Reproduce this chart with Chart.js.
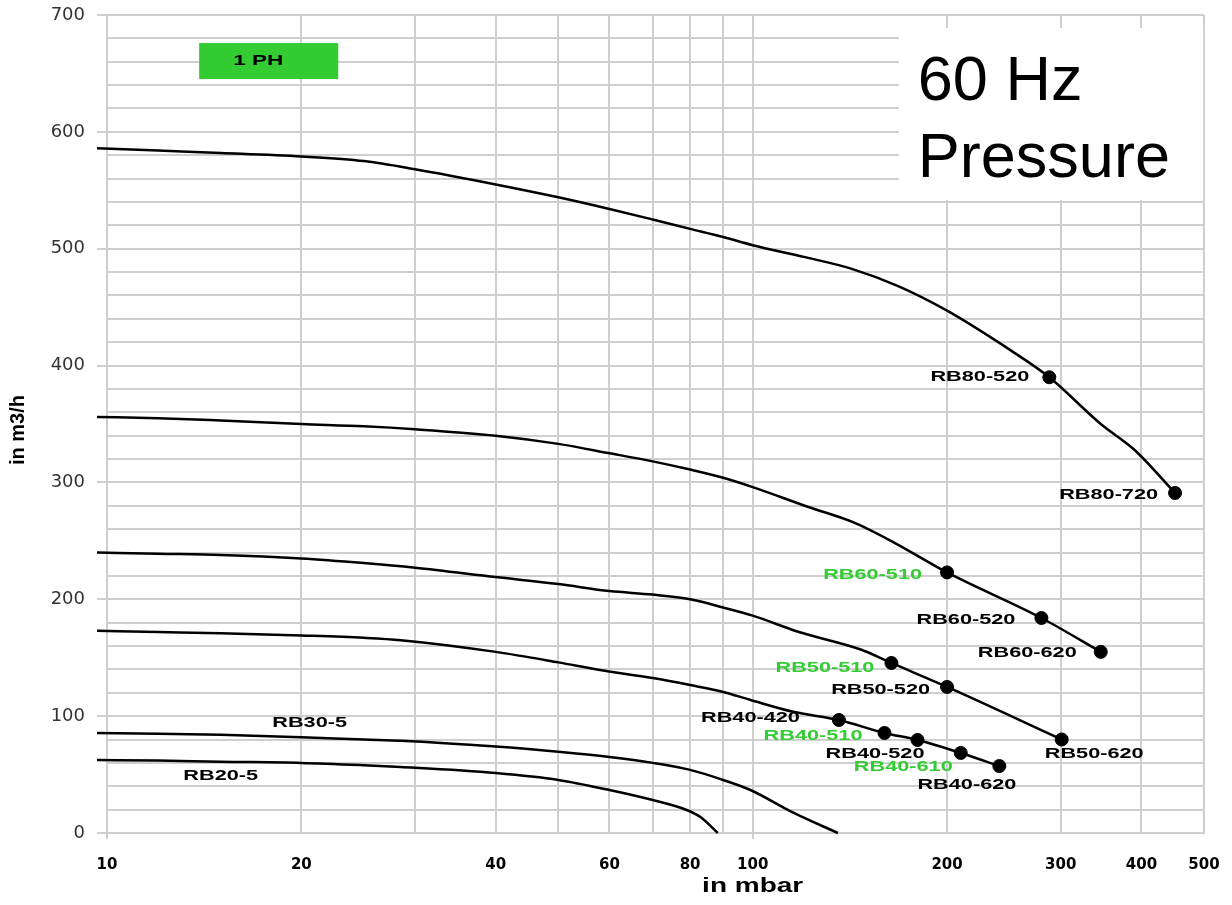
<!DOCTYPE html>
<html>
<head>
<meta charset="utf-8">
<script src="https://cdn.jsdelivr.net/npm/chart.js@4/dist/chart.umd.min.js"></script>
<style>
html,body{margin:0;padding:0;background:#fff;}
#wrap{width:1232px;height:905px;position:relative;}
</style>
</head>
<body>
<div id="wrap"><canvas id="c" width="1232" height="905"></canvas></div>
<script>
// ---- Data (pressure in mbar, flow in m3/h) ----
const rb80X = [9.65, 12, 15, 20, 25, 30, 40, 50, 60, 70, 80, 90, 100, 120, 142, 168, 200, 251, 288, 346, 390, 451];
const rb80Y = [586, 584, 582, 579, 575, 568, 555, 544, 534, 525, 517, 510, 503, 493, 483, 468, 447, 413, 390, 350, 328, 291];

const rb60X = [9.65, 12, 15, 20, 25, 30, 40, 50, 60, 70, 80, 90, 100, 122, 143, 165, 200, 280, 346];
const rb60Y = [356, 355, 353, 350, 348, 345.5, 340, 333, 325, 318, 311, 304, 296, 279, 266, 249, 223, 184, 155];

const rb50X = [9.65, 12, 15, 20, 25, 30, 40, 50, 60, 70, 80, 90, 100, 118, 147, 164, 200, 301];
const rb50Y = [240, 239, 238, 235, 231, 227, 219, 213, 207, 204, 200, 193, 186, 172, 157, 145.5, 125, 80];

const rb40X = [9.65, 12, 15, 20, 25, 28.5, 40, 50, 58, 70, 80, 90, 99, 116, 136, 160, 180, 210, 241];
const rb40Y = [173, 172, 171, 169, 167, 165, 155, 146, 139.5, 132.6, 126.6, 120.7, 114, 103.5, 96.7, 85.6, 79.6, 68.5, 57.3];

const rb30X = [9.65, 12, 15, 20, 25, 28.5, 40, 50, 60, 70, 80, 90, 99, 116, 135.5];
const rb30Y = [85.6, 85, 84, 82, 80, 79, 74, 69.5, 65, 60, 54, 45.4, 37, 17, 0];

const rb20X = [9.65, 12, 15, 20, 25, 28.5, 40, 50, 60, 70, 79, 83, 88.3];
const rb20Y = [62.5, 62, 61, 60, 58, 56.5, 51.3, 45.4, 36.8, 28.2, 19.7, 13.7, 0];

const markerNames = ['RB80-520','RB80-720','RB60-510','RB60-520','RB60-620','RB50-510','RB50-520','RB50-620','RB40-420','RB40-510','RB40-520','RB40-610','RB40-620'];
const markerX     = [288, 451, 200, 280, 346, 164, 200, 301, 136, 160, 180, 210, 241];
const markerY     = [390, 291, 223, 184, 155, 145.5, 125, 80, 96.7, 85.6, 79.6, 68.5, 57.3];
const markerGreen = [false,false,true,false,false,true,false,false,false,true,false,true,false];

const curveNames = ['RB20-5', 'RB30-5'];
const curveLabelX = [15, 20.6];
const curveLabelY = [48.8, 94];

const xTickValues = [10,20,30,40,50,60,70,80,90,100,200,300,400,500];
const xTickLabels = [10,20,40,60,80,100,200,300,400,500];
const yMajorStep = 100;
const yMinorStep = 20;

// ---- Styles (pixel offsets of marker labels: dx of right edge, dy) ----
const labelOffsets = [[-20,0],[-17,2],[-25,3],[-26,2],[-24,1],[-17,5],[-17,3],[82,15],[-39,-2],[-22,3],[7,14],[-8,14],[17,19]];
const GREEN = '#33cc33';
const GRID = '#cfcfcf';

function pts(xs, ys){ return xs.map((x,i)=>({x:x, y:ys[i]})); }
function curve(xs, ys){
  return {type:'line', data:pts(xs,ys), borderColor:'#000', borderWidth:2.5, pointRadius:0,
          cubicInterpolationMode:'monotone', fill:false, clip:false};
}

function stretchText(ctx, text, x, y, font, color, align, sx){
  ctx.save();
  ctx.translate(x, y);
  ctx.scale(sx, 1);
  ctx.font = font;
  ctx.fillStyle = color;
  ctx.textAlign = align;
  ctx.textBaseline = 'middle';
  ctx.fillText(text, 0, 0);
  ctx.restore();
}

const overlay = {
  id: 'overlay',
  beforeDatasetsDraw(chart){
    const ctx = chart.ctx, xs = chart.scales.x, ys = chart.scales.y;
    // 1 PH box
    let x1 = xs.getPixelForValue(13.89), x2 = xs.getPixelForValue(22.81);
    let y1 = ys.getPixelForValue(676), y2 = ys.getPixelForValue(645.2);
    ctx.save();
    ctx.fillStyle = GREEN;
    ctx.fillRect(x1, y1, x2-x1, y2-y1);
    ctx.restore();
    stretchText(ctx, '1 PH', x1 + 34, (y1+y2)/2, 'bold 15px "Liberation Sans", Arial, sans-serif', '#000', 'left', 1.5);
    // 60 Hz Pressure box
    x1 = xs.getPixelForValue(168.4); x2 = xs.getPixelForValue(498.5);
    y1 = ys.getPixelForValue(688.9); y2 = ys.getPixelForValue(541.7);
    ctx.save();
    ctx.fillStyle = '#fff';
    ctx.fillRect(x1, y1, x2-x1, y2-y1);
    ctx.font = '63px "Liberation Sans", Arial, sans-serif';
    ctx.fillStyle = '#000';
    ctx.textAlign = 'left';
    ctx.textBaseline = 'alphabetic';
    ctx.fillText('60 Hz', x1 + 19, y1 + 72);
    ctx.fillText('Pressure', x1 + 19, y1 + 149);
    ctx.restore();
  },
  afterDatasetsDraw(chart){
    const ctx = chart.ctx, xs = chart.scales.x, ys = chart.scales.y;
    const lf = 'bold 14px "Liberation Sans", Arial, sans-serif';
    markerNames.forEach((n,i)=>{
      const px = xs.getPixelForValue(markerX[i]) + labelOffsets[i][0];
      const py = ys.getPixelForValue(markerY[i]) + labelOffsets[i][1];
      stretchText(ctx, n, px, py, lf, markerGreen[i] ? GREEN : '#000', 'right', 1.55);
    });
    curveNames.forEach((n,i)=>{
      stretchText(ctx, n, xs.getPixelForValue(curveLabelX[i]), ys.getPixelForValue(curveLabelY[i]), lf, '#000', 'center', 1.55);
    });
    // axis titles
    stretchText(ctx, 'in mbar', xs.getPixelForValue(100), 886, 'bold 20px "Liberation Sans", Arial, sans-serif', '#000', 'center', 1.4);
    ctx.save();
    ctx.translate(18, 430);
    ctx.rotate(-Math.PI/2);
    ctx.font = 'bold 20px "Liberation Sans", Arial, sans-serif';
    ctx.fillStyle = '#000';
    ctx.textAlign = 'center';
    ctx.textBaseline = 'middle';
    ctx.fillText('in m3/h', 0, 0);
    ctx.restore();
  }
};

new Chart(document.getElementById('c'), {
  data: {
    datasets: [
      curve(rb80X, rb80Y), curve(rb60X, rb60Y), curve(rb50X, rb50Y),
      curve(rb40X, rb40Y), curve(rb30X, rb30Y), curve(rb20X, rb20Y),
      {type:'scatter', data: pts(markerX, markerY), backgroundColor:'#000', borderColor:'#000',
       pointRadius:6.5, pointStyle:'circle', clip:false}
    ]
  },
  options: {
    responsive: false,
    animation: false,
    layout: {padding: {left: 0, top: 15, right: 28, bottom: 0}},
    plugins: {legend: {display:false}, tooltip: {enabled:false}, title:{display:false}},
    scales: {
      x: {
        type: 'logarithmic', min: 10, max: 500, position: 'bottom',
        afterBuildTicks: s => { s.ticks = xTickValues.map(v => ({value: v})); },
        afterFit: s => { s.height = 72; s.paddingLeft = 0; s.paddingRight = 0; },
        grid: {color: GRID, lineWidth: 2, tickLength: 6,
               tickColor: c => (c.tick && (c.tick.value === 10 || c.tick.value === 100)) ? GRID : 'rgba(0,0,0,0)'},
        border: {color: GRID, width: 2},
        ticks: {autoSkip:false, maxRotation:0, padding: 17, color:'#000',
                font: {family:'"DejaVu Sans", sans-serif', size: 15, weight:'bold'},
                callback: v => xTickLabels.includes(v) ? String(v) : ''}
      },
      y: {
        type: 'linear', min: 0, max: 700, position: 'left',
        afterFit: s => { s.width = 107; s.paddingTop = 0; s.paddingBottom = 0; },
        grid: {color: GRID, lineWidth: 2, tickLength: 10,
               tickColor: c => (c.tick && c.tick.value % yMajorStep === 0) ? GRID : 'rgba(0,0,0,0)'},
        border: {color: GRID, width: 2},
        ticks: {stepSize: yMinorStep, autoSkip:false, maxTicksLimit: 100, padding: 12, color:'#333',
                font: {family:'"DejaVu Sans", sans-serif', size: 18},
                callback: v => (v % yMajorStep === 0) ? String(v) : ''}
      }
    }
  },
  plugins: [overlay]
});
</script>
</body>
</html>
